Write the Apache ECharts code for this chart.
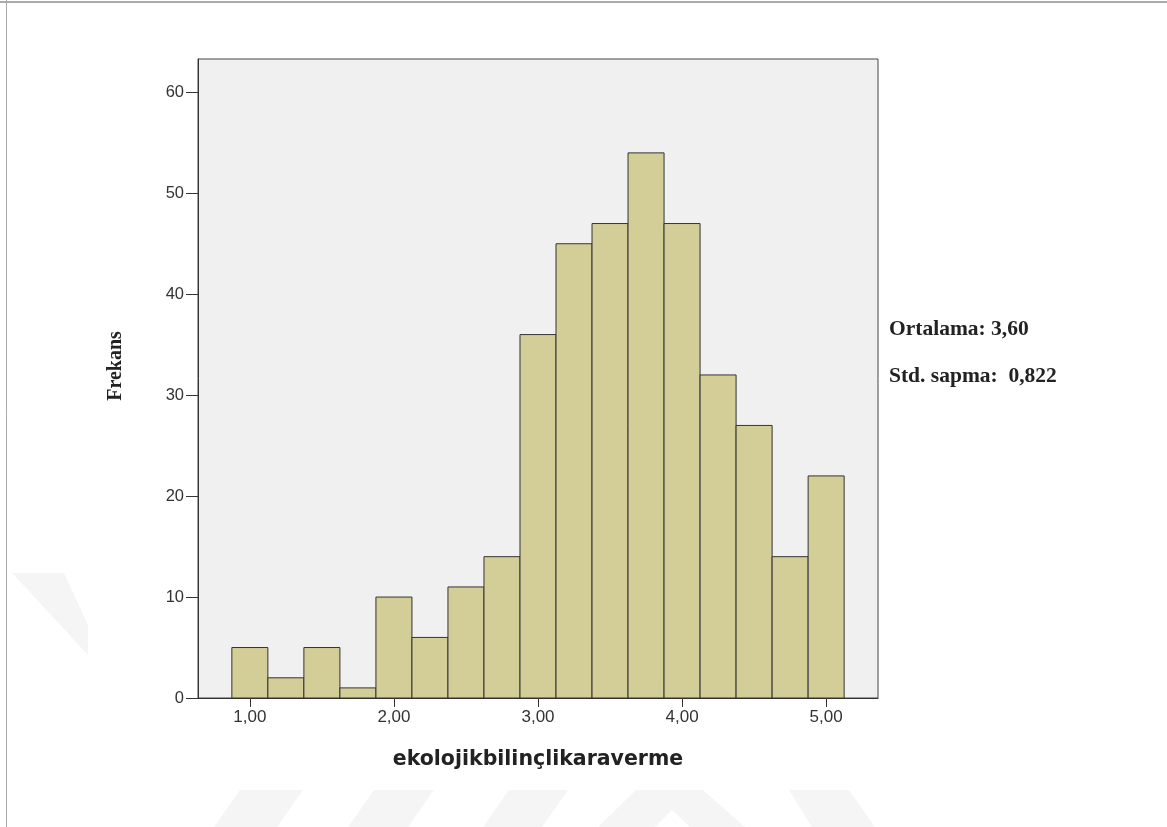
<!DOCTYPE html>
<html><head><meta charset="utf-8">
<script src="https://cdn.jsdelivr.net/npm/echarts@6/dist/echarts.min.js"></script>
<style>html,body{margin:0;padding:0;background:#fff}#c{width:1167px;height:827px}</style>
</head><body><div id="c"></div>
<script>
const binCenters = [1.00,1.25,1.50,1.75,2.00,2.25,2.50,2.75,3.00,3.25,3.50,3.75,4.00,4.25,4.50,4.75,5.00];
const frequencies = [5,2,5,1,10,6,11,14,36,45,47,54,47,32,27,14,22];
const xTickValues = [1,2,3,4,5];
const binWidth = 0.25;
const xTitle = 'ekolojikbilinçlikaraverme';
const yTitle = 'Frekans';
const statsLines = ['Ortalama: 3,60', 'Std. sapma:  0,822'];

const chart = echarts.init(document.getElementById('c'), null, {renderer:'canvas'});
const data = binCenters.map((c,i)=>[c, frequencies[i]]);
const wm = '#f5f5f5';
chart.setOption({
  animation:false,
  grid:{left:198, top:59, width:680, height:639, show:true, backgroundColor:'#f0f0f0', borderColor:'#444', borderWidth:1},
  xAxis:{
    type:'value', min:0.64, max:5.36,
    name:xTitle, nameLocation:'middle', nameGap:51,
    nameTextStyle:{fontFamily:'DejaVu Sans', fontWeight:'bold', fontSize:20.5, color:'#222'},
    axisLine:{show:true, lineStyle:{color:'#333', width:1}},
    axisTick:{show:true, length:9, customValues:xTickValues, lineStyle:{color:'#333'}},
    axisLabel:{customValues:xTickValues, color:'#333', fontFamily:'Liberation Sans', fontSize:17, margin:11,
      formatter:v=>v.toFixed(2).replace('.',',')},
    splitLine:{show:false}
  },
  yAxis:{
    type:'value', min:0, max:63.3, interval:10,
    axisLine:{show:true, lineStyle:{color:'#333', width:1}},
    axisTick:{show:true, length:12, lineStyle:{color:'#333'}},
    axisLabel:{color:'#333', fontFamily:'Liberation Sans', fontSize:16.5, margin:14, showMaxLabel:false},
    splitLine:{show:false}
  },
  series:[{
    type:'custom',
    data:data,
    renderItem:function(params, api){
      const c = api.value(0), v = api.value(1);
      const p0 = api.coord([c-binWidth/2, v]);
      const p1 = api.coord([c+binWidth/2, 0]);
      return {type:'rect', shape:{x:p0[0], y:p0[1], width:p1[0]-p0[0], height:p1[1]-p0[1]},
        style:{fill:'#d3ce98', stroke:'#333', lineWidth:1}};
    },
    encode:{x:0,y:1}
  }],
  graphic:[
    {type:'polygon', z:-10, shape:{points:[[12,573],[64,573],[88,625],[88,655]]}, style:{fill:wm}},
    {type:'polygon', z:-10, shape:{points:[[240,790],[303,790],[277,827],[214,827]]}, style:{fill:wm}},
    {type:'polygon', z:-10, shape:{points:[[374,790],[434,790],[408,827],[348,827]]}, style:{fill:wm}},
    {type:'polygon', z:-10, shape:{points:[[509,790],[568,790],[542,827],[483,827]]}, style:{fill:wm}},
    {type:'polygon', z:-10, shape:{points:[[636,790],[703,790],[745,827],[690,827],[672,810],[655,827],[598,827]]}, style:{fill:wm}},
    {type:'polygon', z:-10, shape:{points:[[789,790],[849,790],[875,827],[812,827]]}, style:{fill:wm}},
    {type:'line', shape:{x1:0,y1:2,x2:1167,y2:2}, style:{stroke:'#aaa', lineWidth:2}},
    {type:'line', shape:{x1:6.5,y1:0,x2:6.5,y2:827}, style:{stroke:'#aaa', lineWidth:1}},
    {type:'text', x:116, y:366, rotation:Math.PI/2,
      style:{text:yTitle, font:'bold 20px "Liberation Serif"', fill:'#222', align:'center', verticalAlign:'middle'}},
    {type:'text', x:889, y:329, style:{text:statsLines[0], font:'bold 21.5px "Liberation Serif"', fill:'#222', verticalAlign:'middle'}},
    {type:'text', x:889, y:376, style:{text:statsLines[1], font:'bold 21.5px "Liberation Serif"', fill:'#222', verticalAlign:'middle'}}
  ]
});
</script></body></html>
